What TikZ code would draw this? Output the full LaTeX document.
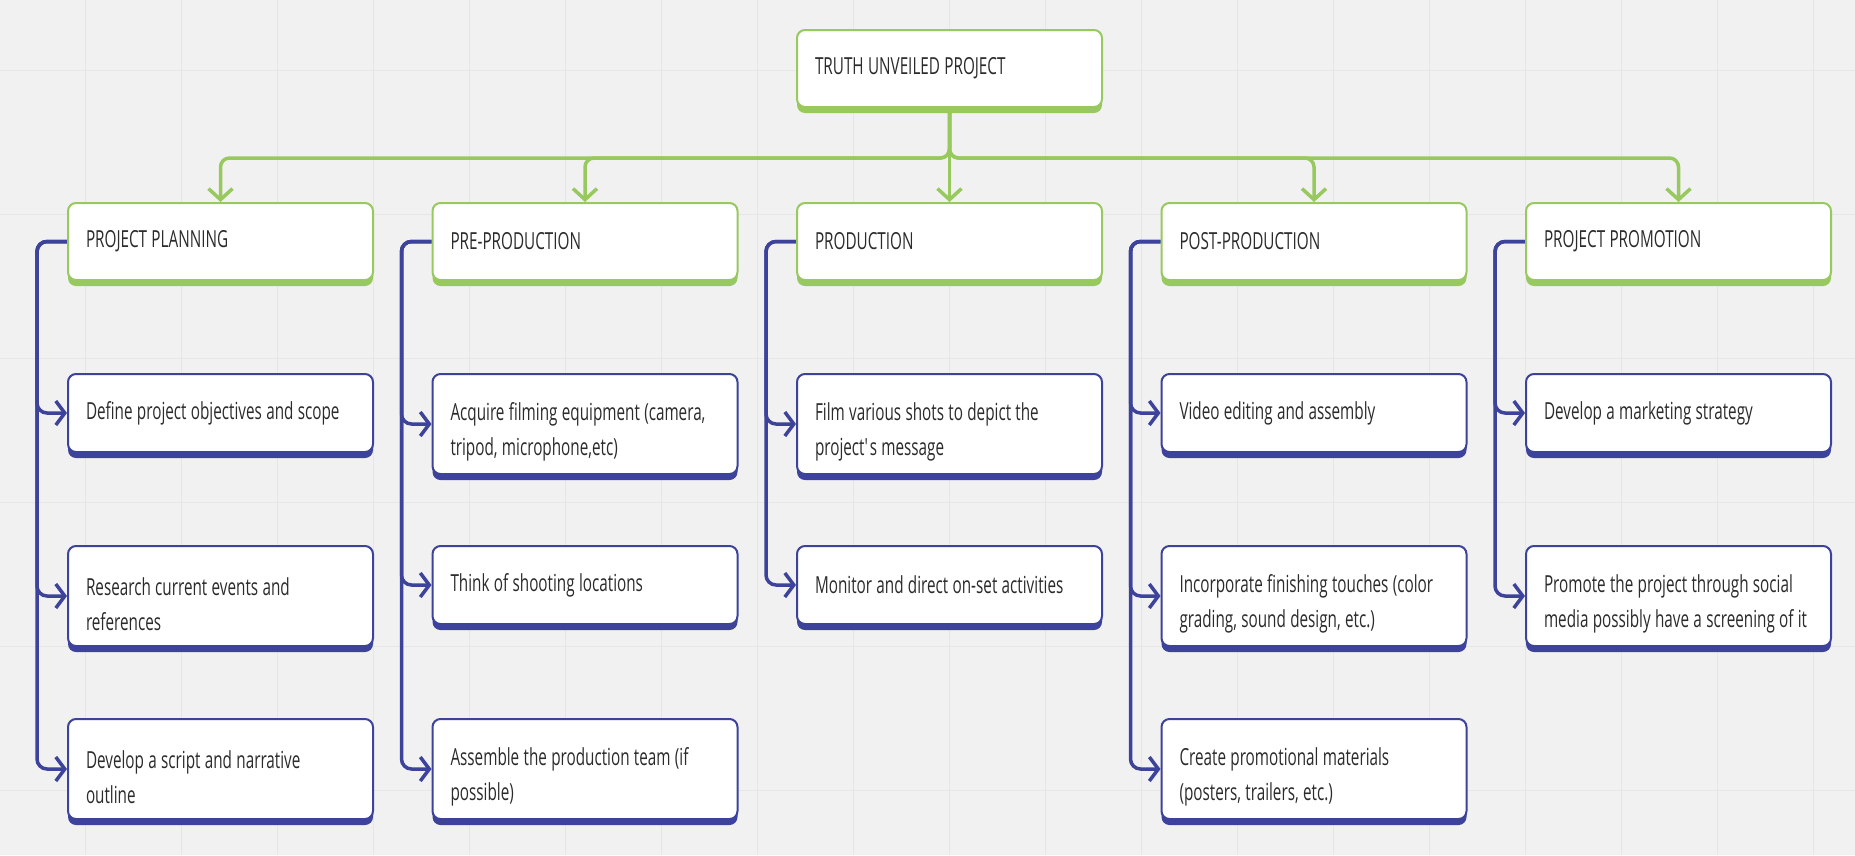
\documentclass[tikz,border=0pt]{standalone}
\usepackage{fontspec}
\setmainfont{Open Sans}[FakeStretch=0.65]
\usetikzlibrary{arrows.meta,shadows}
\definecolor{gr}{HTML}{98C95E}
\definecolor{bl}{HTML}{3D429B}
\definecolor{bgc}{HTML}{F1F1F1}
\definecolor{gridc}{HTML}{E6E6E6}
\definecolor{txt}{HTML}{2B2B2B}
\pgfdeclarelayer{bg}
\pgfsetlayers{bg,main}
\newcommand\boxfont{\fontsize{23.5pt}{35pt}\selectfont\fontdimen2\font=4.3pt\fontdimen3\font=0pt\fontdimen4\font=0pt\relax}
\tikzset{
 box/.style={rectangle, rounded corners=8pt, fill=white, line width=2pt,
   text width=269pt, inner xsep=18pt, inner ysep=0pt, align=flush left, anchor=north,
   font=\boxfont, text=txt},
 gbox/.style={box, draw=gr, general shadow={shadow yshift=-6pt, fill=gr}, minimum height=77pt},
 bbox/.style={box, draw=bl, general shadow={shadow yshift=-6pt, fill=bl}},
 oneline/.style={minimum height=78pt},
 twoline/.style={minimum height=100pt},
 gline/.style={draw=gr, line width=3.5pt, rounded corners=9pt, -{Straight Barb[length=11pt,width=24pt]}},
 bline/.style={draw=bl, line width=3.5pt, rounded corners=10pt, -{Straight Barb[length=9pt,width=24pt]}},
}
\newcommand\lowstrut{\rule{0pt}{34pt}}
\begin{document}
\begin{tikzpicture}[x=1pt,y=-1pt]
\useasboundingbox (0,0) rectangle (1855,855);
% top
\node[gbox] (top) at (949.5,29) {TRUTH UNVEILED PROJECT};
% headers
\node[gbox] (h1) at (220.5,202) {PROJECT PLANNING};
\node[gbox] (h2) at (585,202) {PRE-PRODUCTION};
\node[gbox] (h3) at (949.5,202) {PRODUCTION};
\node[gbox] (h4) at (1314,202) {POST-PRODUCTION};
\node[gbox] (h5) at (1678.5,202) {PROJECT PROMOTION};
% column 1
\node[bbox,oneline] (l11) at (220.5,373) {Define project objectives and scope};
\node[bbox,twoline] (l12) at (220.5,545) {\lowstrut Research current events and\\references};
\node[bbox,twoline] (l13) at (220.5,718) {\lowstrut Develop a script and narrative\\outline};
% column 2
\node[bbox,twoline] (l21) at (585,373) {\lowstrut Acquire filming equipment (camera,\\tripod, microphone,etc)};
\node[bbox,oneline] (l22) at (585,545) {Think of shooting locations};
\node[bbox,twoline] (l23) at (585,718) {\lowstrut Assemble the production team (if\\possible)};
% column 3
\node[bbox,twoline] (l31) at (949.5,373) {\lowstrut Film various shots to depict the\\project\textquotesingle s message};
\node[bbox,oneline] (l32) at (949.5,545) {Monitor and direct on-set activities};
% column 4
\node[bbox,oneline] (l41) at (1314,373) {Video editing and assembly};
\node[bbox,twoline] (l42) at (1314,545) {\lowstrut Incorporate finishing touches (color\\grading, sound design, etc.)};
\node[bbox,twoline] (l43) at (1314,718) {\lowstrut Create promotional materials\\(posters, trailers, etc.)};
% column 5
\node[bbox,oneline] (l51) at (1678.5,373) {Develop a marketing strategy};
\node[bbox,twoline] (l52) at (1678.5,545) {\lowstrut Promote the project through social\\media possibly have a screening of it};

\begin{pgfonlayer}{bg}
\fill[bgc] (0,0) rectangle (1855,855);
\foreach \x in {85,181,...,1855} \draw[gridc, line width=1pt] (\x,0) -- (\x,855);
\foreach \y in {70,214,...,855} \draw[gridc, line width=1pt] (0,\y) -- (1855,\y);
% green tree
\foreach \h in {h1,h2,h4,h5} \draw[gline] (top.south) -- ++(0,50) -| (\h.north);
\draw[gline] (top.south) -- (h3.north);
% blue branches
\foreach \h/\l in {h1/l11,h1/l12,h1/l13,h2/l21,h2/l22,h2/l23,h3/l31,h3/l32,h4/l41,h4/l42,h4/l43,h5/l51,h5/l52}
  \draw[bline] (\h.west) -- ++(-30,0) |- (\l.west);
\end{pgfonlayer}
\end{tikzpicture}
\end{document}
